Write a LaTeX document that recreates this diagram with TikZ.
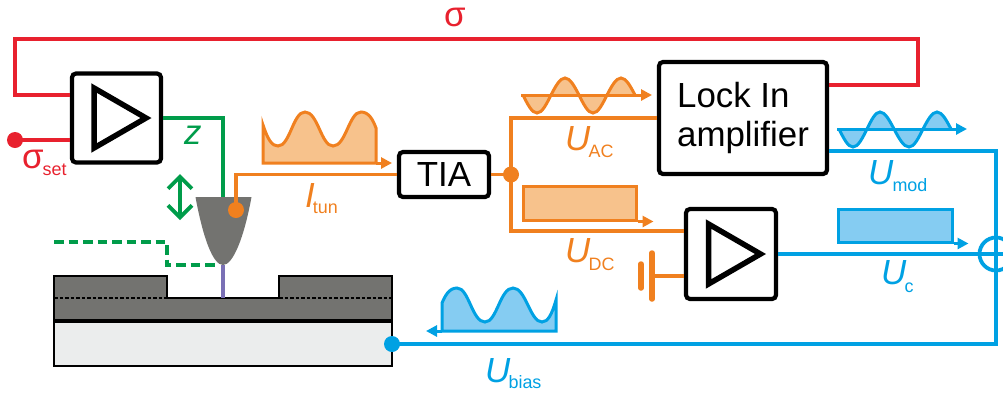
\documentclass[tikz,border=0pt]{standalone}
\usepackage{fontspec}
\setmainfont{Liberation Sans}
\usepackage{tikz}
\usetikzlibrary{arrows.meta}

\definecolor{fbred}{rgb}{0.91,0.13,0.18}
\definecolor{zgreen}{rgb}{0.0,0.61,0.29}
\definecolor{sigorange}{rgb}{0.94,0.50,0.12}
\definecolor{sigorangefill}{rgb}{0.97,0.76,0.55}
\definecolor{sigblue}{rgb}{0.0,0.63,0.89}
\definecolor{sigbluefill}{rgb}{0.52,0.80,0.95}
\definecolor{tipgray}{rgb}{0.45,0.45,0.44}
\definecolor{subgray}{rgb}{0.92,0.93,0.93}
\definecolor{gappurple}{rgb}{0.48,0.44,0.71}

\newcommand{\sigtext}[4]{\textit{#1}\kern#3bp\raisebox{#4bp}{\fontsize{18}{18}\selectfont #2}}

\begin{document}
\begin{tikzpicture}[x=1bp,y=-1bp,>={Triangle[length=11bp,width=11bp]},line join=miter,
  wire/.style={line width=3.8bp},
  wave/.style={line width=3bp},
  blockbox/.style={draw=black,fill=white,line width=4.2bp,rounded corners=4bp,inner sep=0pt,font=\fontsize{35}{39}\selectfont},
  ampsym/.style={draw=black,line width=5.5bp},
  dot/.style={circle,inner sep=0pt,minimum size=16bp},
  sig/.style={inner sep=0pt,anchor=base west,font=\fontsize{35}{35}\selectfont}]
  \useasboundingbox (0,0) rectangle (1003,392);
  % Node: sample
  \draw [black,line width=1.5bp,fill=subgray] (54,321) rectangle (392,366);
  \draw [black,line width=1.5bp,fill=tipgray] (54,276) -- (167,276) -- (167,298) -- (279,298) -- (279,276) -- (392,276) -- (392,321) -- (54,321) -- cycle;
  \draw [black,line width=3.2bp] (54,321) -- (392,321);
  \draw [black,line width=1.2bp,dash pattern=on 3.5bp off 2bp] (54,298) -- (167,298);
  \draw [black,line width=1.2bp,dash pattern=on 3.5bp off 2bp] (279,298) -- (392,298);
  % Node: tip
  \coordinate (tiptop) at (223,197);
  \coordinate (tipapex) at (223,265);
  \coordinate (surface) at (223,298);
  \draw [gappurple,line width=3.2bp] (tipapex) -- (surface);
  % Node: points
  \node [dot,fill=fbred] (setpoint) at (15,140) {};
  \node [dot,fill=sigorange] (itun) at (236,210) {};
  \node [dot,fill=sigorange] (split) at (511,174.5) {};
  \node [dot,fill=sigblue] (backgate) at (392,344) {};
  \node [circle,draw=sigblue,line width=3.8bp,inner sep=0pt,minimum size=33bp] (sum) at (996,254) {};
  \coordinate (fbleft) at (15,39);
  \coordinate (fbright) at (918,39);
  % Node: blocks
  \node [blockbox,minimum width=89bp,minimum height=89bp] (ampz) at (116.5,118) {};
  \node [blockbox,minimum width=90bp,minimum height=90bp] (ampdc) at (731,254) {};
  \node [blockbox,minimum width=90bp,minimum height=45bp] (tia) at (444,174.5) {TIA};
  \node [blockbox,minimum width=168bp,minimum height=112bp,align=left] (lockin) at (743,118) {Lock In\\amplifier};
  \foreach \amp in {ampz,ampdc}
    \draw [ampsym] ([shift={(-22.5,-30)}]\amp.center) -- ([shift={(29.5,0)}]\amp.center) -- ([shift={(-22.5,30)}]\amp.center) -- cycle;
  % Edge: lockin -> ampz
  \draw [fbred,wire] ([yshift=33bp]lockin.east) -| (fbright) -- (fbleft) |- ([yshift=23bp]ampz.west);
  % Edge: setpoint -> ampz
  \draw [fbred,wire] (setpoint.center) -- (setpoint.center -| ampz.west);
  % Edge: ampz -> tip
  \draw [zgreen,wire] (ampz.east) -| (tiptop);
  \fill [tipgray] (195.5,197) .. controls (203,238) and (213,265) .. (223,265) .. controls (233,265) and (244,238) .. (251.5,197) -- cycle;
  % Edge: tip -> tia
  \draw [sigorange,wire] (itun.center) |- (tia.west);
  \node [dot,fill=sigorange] at (itun) {};
  % Edge: tia -> lockin, ampdc
  \draw [sigorange,wire] (tia.east) -- (split.center);
  \draw [sigorange,wire] (split.center) |- (lockin.west);
  \draw [sigorange,wire] (split.center) |- ([yshift=23bp]ampdc.west);
  % Edge: battery -> ampdc
  \coordinate (platelong) at (652,276);
  \coordinate (plateshort) at (641,276);
  \draw [sigorange,wire] (platelong) -- ([yshift=-22bp]ampdc.west);
  \draw [sigorange,line width=5.5bp,line cap=round] ([yshift=-23bp]platelong) -- ([yshift=23bp]platelong);
  \draw [sigorange,line width=5.5bp,line cap=round] ([yshift=-12bp]plateshort) -- ([yshift=12bp]plateshort);
  % Edge: lockin, ampdc -> sum
  \draw [sigblue,wire] ([yshift=-33bp]lockin.east) -| (sum.north);
  \draw [sigblue,wire] (ampdc.east) -- (sum.west);
  \draw [sigblue,wire] (sum.west) -- (sum.east);
  \draw [sigblue,wire] (sum.north) -- (sum.south);
  % Edge: sum -> backgate
  \draw [sigblue,wire] (sum.south) |- (backgate.center);
  % Edge: z travel
  \coordinate (zup) at (180,174);
  \coordinate (zdown) at (180,220);
  \draw [zgreen,wire,{Straight Barb[length=12bp,width=24bp]}-{Straight Barb[length=12bp,width=24bp]}] (zup) -- (zdown);
  % Edge: approach path
  \coordinate (dashstart) at (54,242);
  \coordinate (dashend) at (218,265);
  \draw [zgreen,wire,dash pattern=on 9.5bp off 5bp] (dashstart) -| (167,265) -- (dashend);
  % Node: waves
  \draw [sigorange,wave,fill=sigorangefill] (263,125) .. controls (268,140) and (272,146) .. (278,146) .. controls (290,146) and (293,112) .. (305,112) .. controls (318,112) and (321,146) .. (333,146) .. controls (346,146) and (349,112) .. (361,112) .. controls (369,112) and (373,120) .. (376,128) -- (376,163) -- (263,163) -- cycle;
  \draw [sigorange,wave,->] (376,163) -- (392,163);
  \draw [sigorange,wave,fill=sigorangefill] (523,95) sin (537,113) cos (551,95) sin (565,78) cos (579,95) sin (593,113) cos (607,95) sin (621,78) cos (635,95);
  \draw [sigorange,wave,->] (521,95) -- (652,95);
  \node [draw=sigorange,fill=sigorangefill,wave,inner sep=0pt,minimum width=113bp,minimum height=34bp] (dcpulse) at (579.5,203) {};
  \draw [sigorange,wave,->] (dcpulse.south east) -- ++(16,0);
  \draw [sigblue,wave,fill=sigbluefill] (839,129) sin (853,147) cos (867,129) sin (880,112) cos (894,129) sin (909,147) cos (923,129) sin (937,112) cos (951,129);
  \draw [sigblue,wave,->] (837,129) -- (967,129);
  \node [draw=sigblue,fill=sigbluefill,wave,inner sep=0pt,minimum width=114bp,minimum height=33bp] (cpulse) at (895,225.5) {};
  \draw [sigblue,wave,->] (cpulse.south east) -- ++(15,0);
  \draw [sigblue,wave,fill=sigbluefill] (556,300) .. controls (552,314) and (548,322) .. (542,322) .. controls (530,322) and (526,288) .. (513,288) .. controls (500,288) and (497,322) .. (485,322) .. controls (472,322) and (469,288) .. (457,288) .. controls (449,288) and (445,296) .. (442,303) -- (442,331) -- (556,331) -- cycle;
  \draw [sigblue,wave,->] (442,331) -- (426,331);
  % Node: labels
  \node [sig,text=fbred] (sigmatop) at (444,26) {σ};
  \node [sig,text=fbred] (sigmaset) at (22,168) {σ\kern-1bp\raisebox{-7bp}{\fontsize{18}{18}\selectfont set}};
  \node [sig,text=zgreen] (zlabel) at (184,144) {\textit{z}};
  \node [sig,text=sigorange] (itunlabel) at (305,207) {\sigtext{I}{tun}{-2}{-6}};
  \node [sig,text=sigorange] (uaclabel) at (565,150) {\sigtext{U}{AC}{-2}{-7}};
  \node [sig,text=sigorange] (udclabel) at (565,262) {\sigtext{U}{DC}{-2}{-8}};
  \node [sig,text=sigblue] (umodlabel) at (868,184) {\sigtext{U}{mod}{-1}{-7}};
  \node [sig,text=sigblue] (uclabel) at (881,284) {\sigtext{U}{c}{-2}{-8}};
  \node [sig,text=sigblue] (ubiaslabel) at (485,382) {\sigtext{U}{bias}{-2}{-6}};
\end{tikzpicture}
\end{document}
